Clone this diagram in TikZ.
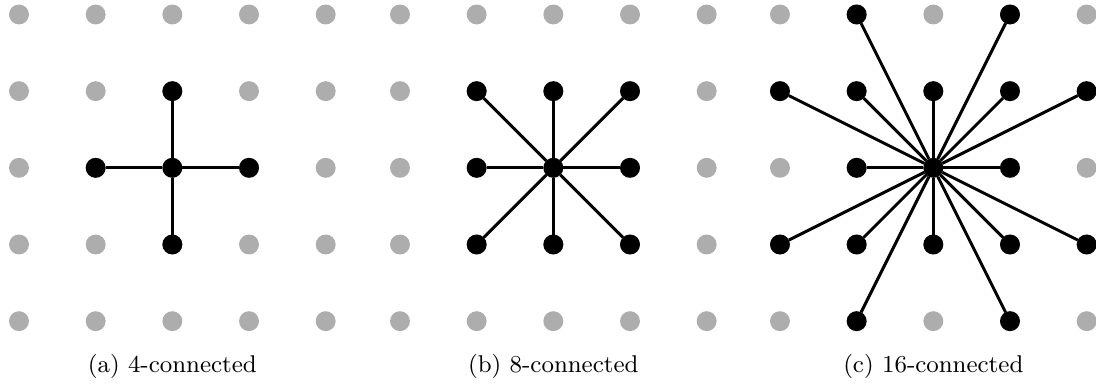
\documentclass[tikz,border=0pt]{standalone}
\usetikzlibrary{calc}
\definecolor{dotgray}{RGB}{173,173,173}
\tikzset{
  gdot/.style={circle,fill=dotgray,inner sep=0pt,outer sep=0pt,minimum size=0.26cm},
  bdot/.style={circle,fill=black,inner sep=0pt,outer sep=0pt,minimum size=0.26cm},
  link/.style={line width=1.1pt},
  caplabel/.style={anchor=base,inner sep=0pt,font=\fontsize{9}{11}\selectfont}
}
\begin{document}
\begin{tikzpicture}
\useasboundingbox (0,0) rectangle (14.295,-5.035);
% gray grids
\foreach \g/\x in {a/0.2478,b/5.217,c/10.173} {
  \foreach \i in {0,...,4} {
    \foreach \j in {0,...,4} {
      \node[gdot] (\g-\i-\j) at ({\x+\i},{-0.189-\j}) {};
    }
  }
}
% (a) 4-connected
\foreach \i/\j in {2/2,2/1,1/2,3/2,2/3} {
  \node[bdot] (A-\i-\j) at (a-\i-\j) {};
}
\foreach \i/\j in {2/1,1/2,3/2,2/3} {
  \draw[link] (A-2-2) -- (A-\i-\j);
}
% (b) 8-connected
\foreach \i/\j in {2/2,1/1,2/1,3/1,1/2,3/2,1/3,2/3,3/3} {
  \node[bdot] (B-\i-\j) at (b-\i-\j) {};
}
\foreach \i/\j in {1/1,2/1,3/1,1/2,3/2,1/3,2/3,3/3} {
  \draw[link] (B-2-2) -- (B-\i-\j);
}
% (c) 16-connected
\foreach \i/\j in {2/2,1/1,2/1,3/1,1/2,3/2,1/3,2/3,3/3,1/0,3/0,0/1,4/1,0/3,4/3,1/4,3/4} {
  \node[bdot] (C-\i-\j) at (c-\i-\j) {};
}
\foreach \i/\j in {1/1,2/1,3/1,1/2,3/2,1/3,2/3,3/3,1/0,3/0,0/1,4/1,0/3,4/3,1/4,3/4} {
  \draw[link] (C-2-2) -- (C-\i-\j);
}
% captions
\node[caplabel] (capa) at ($(a-2-4)+(0,-0.675)$) {(a) 4-connected};
\node[caplabel] (capb) at ($(b-2-4)+(0,-0.675)$) {(b) 8-connected};
\node[caplabel] (capc) at ($(c-2-4)+(0,-0.675)$) {(c) 16-connected};
\end{tikzpicture}
\end{document}
